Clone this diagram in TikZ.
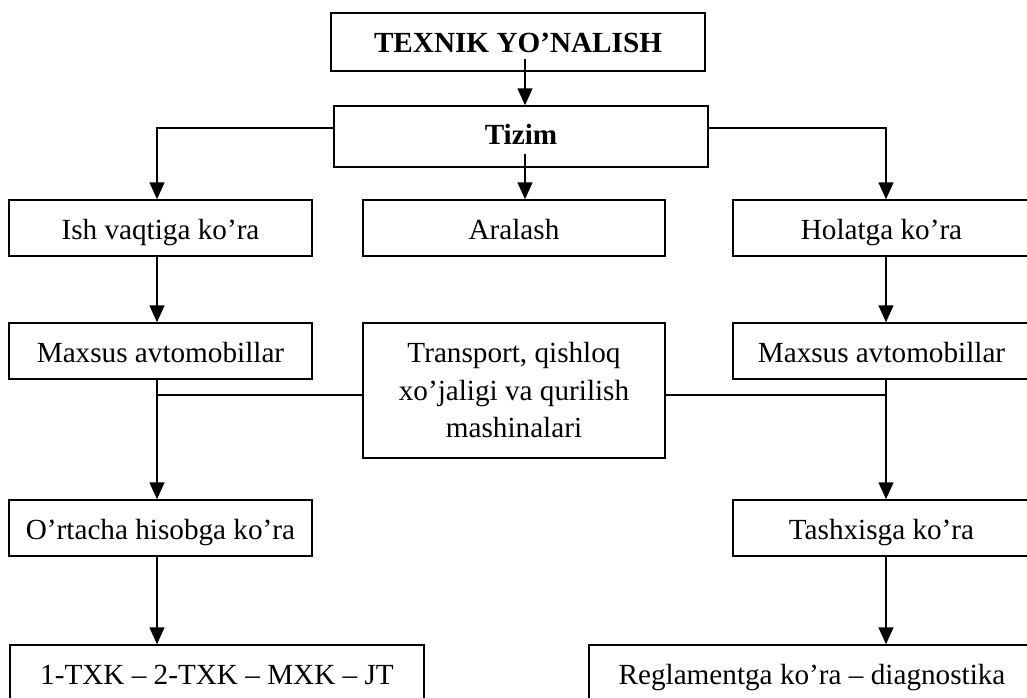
\documentclass[tikz,border=0pt]{standalone}
\usepackage{fontspec}
\setmainfont{Liberation Serif}
\usetikzlibrary{arrows.meta,calc}
\begin{document}
\begin{tikzpicture}[x=0.5pt,y=-0.5pt,
  boxbase/.style={draw,line width=0.75pt,inner sep=0pt,align=center,
    font=\fontsize{14.6}{18.75}\selectfont},
  box/.style={boxbase,text height=11pt,text depth=0pt},
  ln/.style={line width=0.75pt},
  arr/.style={line width=0.75pt,-{Triangle[length=8.5pt,width=7.5pt]}}]
\useasboundingbox (0,0) rectangle (1027,697);
\clip (0,0) rectangle (1027,697);
\node[box,text height=10pt,minimum width=187pt,minimum height=29pt] (top) at (518,42) {\bfseries TEXNIK YO’NALISH};
\node[box,text height=7.5pt,minimum width=187pt,minimum height=30.5pt] (tizim) at (521,136.5) {\bfseries Tizim};
\node[box,minimum width=151.5pt,minimum height=28pt] (ish) at (160.5,228) {Ish vaqtiga ko’ra};
\node[box,minimum width=151pt,minimum height=28pt] (aralash) at (514,228) {Aralash};
\node[box,minimum width=148.5pt,minimum height=28pt] (holat) at (881.5,228) {Holatga ko’ra};
\node[box,minimum width=151.5pt,minimum height=28pt] (mL) at (160.5,351) {Maxsus avtomobillar};
\node[boxbase,minimum width=151pt,minimum height=67.5pt] (trans) at (514,390.5) {Transport, qishloq\\xo’jaligi va qurilish\\mashinalari};
\node[box,minimum width=148.5pt,minimum height=28pt] (mR) at (881.5,351) {Maxsus avtomobillar};
\node[box,minimum width=151.5pt,minimum height=28pt] (ort) at (160.5,528) {O’rtacha hisobga ko’ra};
\node[box,minimum width=148.5pt,minimum height=28pt] (tash) at (881.5,528) {Tashxisga ko’ra};
\node[box,minimum width=207pt,minimum height=28pt] (botL) at (217,673) {1-TXK – 2-TXK – MXK – JT};
\node[box,minimum width=223pt,minimum height=28pt] (botR) at (812,673) {Reglamentga ko’ra – diagnostika};
\coordinate (cx) at (525,0);
\coordinate (jl) at (157,128);
\coordinate (jr) at (886,128);
\coordinate (kl) at (157,395);
\coordinate (kr) at (886,395);
\draw[arr] ($(top.south -| cx)+(0,-13)$) -- (tizim.north -| cx);
\draw[arr] ($(tizim.south -| cx)+(0,-14)$) -- (aralash.north -| cx);
\draw[arr] (tizim.west |- jl) -- (jl) -- (ish.north -| jl);
\draw[arr] (tizim.east |- jr) -- (jr) -- (holat.north -| jr);
\draw[arr] (ish.south -| jl) -- (mL.north -| jl);
\draw[arr] (holat.south -| jr) -- (mR.north -| jr);
\draw[arr] (mL.south -| kl) -- (ort.north -| kl);
\draw[arr] (mR.south -| kr) -- (tash.north -| kr);
\draw[ln] (trans.west |- kl) -- (kl);
\draw[ln] (trans.east |- kr) -- (kr);
\draw[arr] (ort.south -| kl) -- (botL.north -| kl);
\draw[arr] (tash.south -| kr) -- (botR.north -| kr);
\end{tikzpicture}
\end{document}
